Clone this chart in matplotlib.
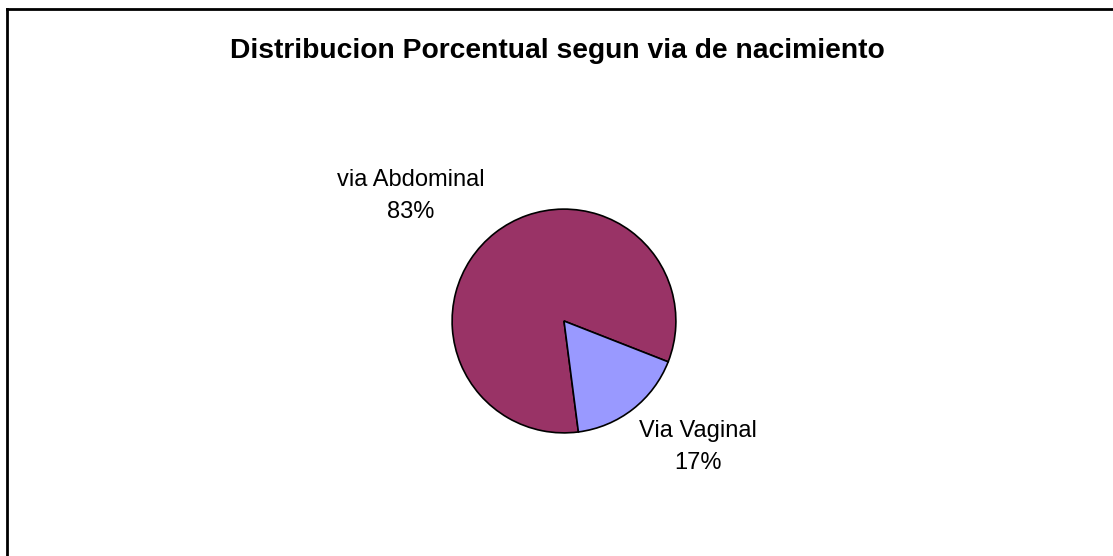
import matplotlib.pyplot as plt
from matplotlib.lines import Line2D

# data
labels = ["via Abdominal", "Via Vaginal"]
values = [83, 17]
colors = ["#993366", "#9999FF"]

W, H = 1113, 556
fig = plt.figure(figsize=(W / 100, H / 100), dpi=100)
fig.patch.set_facecolor("white")

# frame: only top and left edges are visible (chart is cropped)
fig.add_artist(Line2D([6.5 / W, 1], [1 - 8.5 / H, 1 - 8.5 / H], color="black", lw=2, transform=fig.transFigure))
fig.add_artist(Line2D([6.5 / W, 6.5 / W], [0, 1 - 8.5 / H], color="black", lw=2, transform=fig.transFigure))

fig.text(557 / W, 1 - 51 / H, "Distribucion Porcentual segun via de nacimiento",
         ha="center", va="center", fontsize=20.3, fontweight="bold", family="Liberation Sans")

# pie: centre (564, 321) px, radius 113 px
cx, cy, r = 564, 321, 113
ax = fig.add_axes([(cx - r) / W, (H - cy - r) / H, 2 * r / W, 2 * r / H])
ax.pie(values, colors=colors, startangle=-21.4, counterclock=True, radius=1,
       wedgeprops=dict(edgecolor="black", linewidth=1.2))
ax.set_xlim(-1.01, 1.01)
ax.set_ylim(-1.01, 1.01)
ax.set_aspect("equal")
ax.axis("off")

label_pos = [(411, 196), (698, 447)]
for lab, val, (x, y) in zip(labels, values, label_pos):
    fig.text(x / W, 1 - y / H, f"{lab}\n{val}%", ha="center", va="center",
             fontsize=17, linespacing=1.6, family="Liberation Sans")

fig.savefig("out.png", dpi=100)
